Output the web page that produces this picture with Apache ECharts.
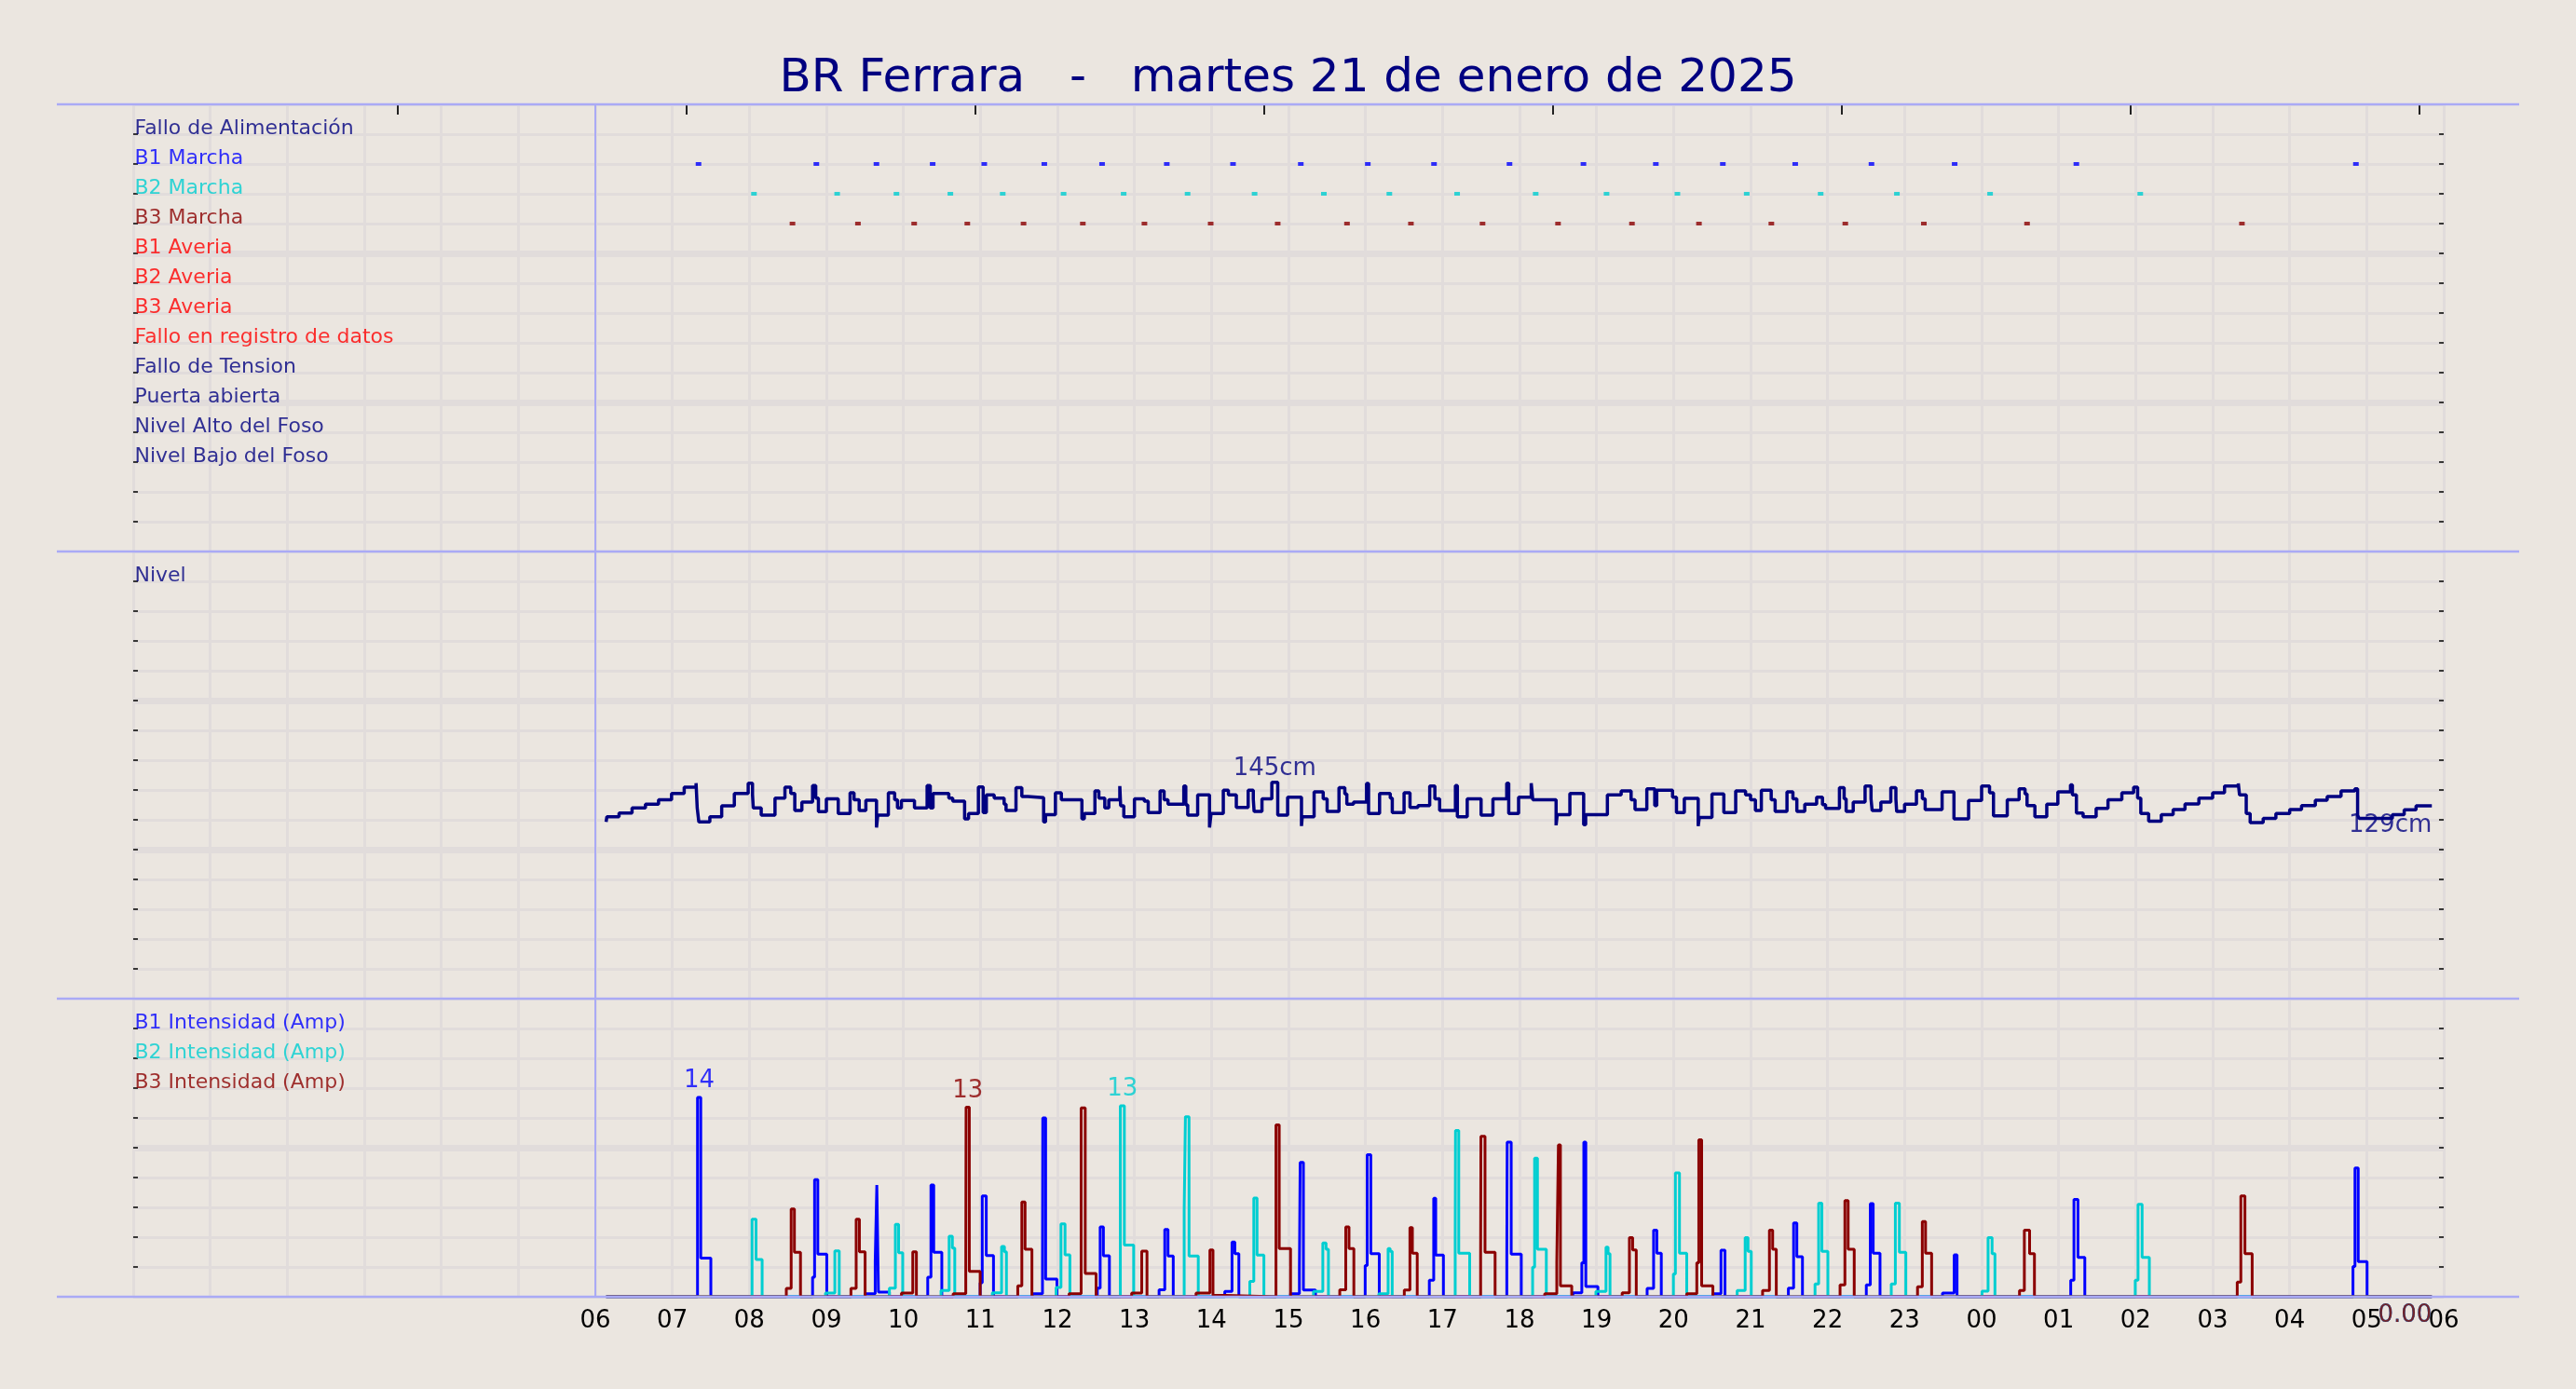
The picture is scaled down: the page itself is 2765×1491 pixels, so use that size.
<!DOCTYPE html>
<html>
<head>
<meta charset="utf-8">
<script src="https://cdn.jsdelivr.net/npm/echarts@6/dist/echarts.min.js"></script>
<style>
html,body{margin:0;padding:0;background:#ebe6e0;}
#chart{width:2765px;height:1491px;}
</style>
</head>
<body>
<div id="chart"></div>
<script>
// ---------------- DATA ----------------
const TITLE = 'BR Ferrara   -   martes 21 de enero de 2025';

const X_TICK_LABELS = ['06','07','08','09','10','11','12','13','14','15','16','17','18','19','20','21','22','23','00','01','02','03','04','05','06'];
const TOP_TICKS = [3.43, 7.18, 10.93, 14.68, 18.43, 22.18, 25.93, 29.68];

const STATUS_LABELS = ['Fallo de Alimentación','B1 Marcha','B2 Marcha','B3 Marcha','B1 Averia','B2 Averia','B3 Averia','Fallo en registro de datos','Fallo de Tension','Puerta abierta','Nivel Alto del Foso','Nivel Bajo del Foso'];
const LEVEL_LABELS = ['Nivel'];
const CURRENT_LABELS = ['B1 Intensidad (Amp)','B2 Intensidad (Amp)','B3 Intensidad (Amp)'];

// pump running marks (hours since 00:00 of the day)
const B1_MARCHA = [7.34, 8.87, 9.65, 10.38, 11.05, 11.83, 12.58, 13.42, 14.28, 15.16, 16.03, 16.89, 17.87, 18.83, 19.77, 20.64, 21.58, 22.57, 23.65, 25.23, 28.86];
const B2_MARCHA = [8.06, 9.14, 9.91, 10.61, 11.29, 12.08, 12.86, 13.69, 14.56, 15.46, 16.31, 17.19, 18.21, 19.13, 20.05, 20.95, 21.91, 22.90, 24.11, 26.06];
const B3_MARCHA = [8.56, 9.41, 10.14, 10.83, 11.56, 12.33, 13.13, 13.99, 14.86, 15.76, 16.59, 17.52, 18.50, 19.46, 20.33, 21.27, 22.23, 23.25, 24.59, 27.38];

// pit level (cm)
const LEVEL_CM = [
[6.14,118.6],[6.15,122.1],[6.308,124.5],[6.477,127.9],[6.651,130.4],[6.821,133.5],[6.990,137.7],[7.154,141.9],[7.308,144.6],[7.323,127.9],[7.344,118.6],[7.487,122.1],[7.641,129.4],[7.805,137.7],[7.985,144.6],[8.041,137],[8.051,127.9],[8.154,123.1],[8.333,134.6],[8.462,141.9],[8.538,137.7],[8.590,126.2],[8.682,131.9],[8.821,143],[8.862,134.6],[8.897,125.4],[9.000,134],[9.154,124.2],[9.308,138.1],[9.359,133.5],[9.426,126.2],[9.513,133.1],[9.651,114.8],[9.667,123.1],[9.805,138.1],[9.887,133.5],[9.923,127.9],[9.974,132.9],[10.144,127.9],[10.308,143],[10.349,127.9],[10.385,137.7],[10.590,134.6],[10.641,132.5],[10.795,120.6],[10.846,124.2],[10.974,142],[11.036,124.9],[11.077,136.7],[11.179,134.6],[11.308,130.4],[11.333,126.2],[11.462,141.5],[11.538,135.6],[11.615,134.8],[11.821,118.6],[11.846,123.5],[11.974,138.1],[12.051,133.5],[12.318,120.6],[12.349,124.2],[12.487,139.4],[12.538,134.6],[12.615,127.9],[12.667,133.5],[12.810,142.6],[12.821,129.4],[12.862,122.1],[13.000,134],[13.128,132.5],[13.179,124.9],[13.333,139.4],[13.385,133.5],[13.436,130.4],[13.641,142.6],[13.667,130],[13.692,123.1],[13.821,136.7],[13.975,114.8],[13.995,124.2],
[14.154,139.8],[14.220,136.7],[14.323,128.3],[14.477,139.8],[14.543,134],[14.554,125.6],[14.656,134],[14.784,145.2],[14.861,123.1],[14.989,135.2],[15.169,115.8],[15.179,122.1],[15.333,138.8],[15.451,134],[15.502,125.6],[15.656,141.5],[15.732,137.3],[15.758,130.4],[15.845,131.9],[16.014,144.4],[16.040,124.2],[16.183,137.7],[16.322,134.6],[16.348,124.9],[16.501,138.1],[16.578,128.3],[16.681,129.6],[16.834,142.6],[16.901,134],[16.963,126.2],[17.168,143],[17.193,122.1],[17.321,134],[17.501,123.1],[17.655,134],[17.834,144.6],[17.860,124.2],[17.988,135.2],[18.152,144.6],[18.172,133.5],[18.475,116.3],[18.49,123.5],[18.654,137.7],[18.833,116.7],[18.859,123.5],[19.141,136.7],[19.320,139.4],[19.449,133.5],[19.500,126.9],[19.653,140.8],[19.756,129.6],[19.782,139.8],[19.987,135.2],[20.038,124.9],[20.140,134.4],[20.320,115.8],[20.335,121.5],[20.499,137.3],[20.653,124.9],[20.807,139.4],[20.935,136.7],[21.000,133.5],[21.063,126.2],[21.140,139.8],[21.268,133.5],[21.319,125.6],[21.473,138.8],[21.550,134],[21.601,125.6],[21.704,130.4],[21.858,135.2],[21.934,130.1],[21.974,127.7],
[22.154,141.5],[22.215,134],[22.241,125.6],[22.333,131.9],[22.487,142.6],[22.564,134],[22.579,126.2],[22.692,131.9],[22.821,141.5],[22.887,134],[22.897,125.6],[23.000,130.4],[23.154,139.4],[23.231,134],[23.267,126.9],[23.487,138.8],[23.641,120.6],[23.831,132.9],[24.000,142.6],[24.103,138.1],[24.154,122.7],[24.333,133.5],[24.487,140.8],[24.564,137.3],[24.590,129.6],[24.692,122.1],[24.846,130.4],[24.990,138.8],[25.154,143.5],[25.179,136.7],[25.231,124.6],[25.318,122.1],[25.487,127.7],[25.641,133.5],[25.821,138.1],[25.974,141.9],[26.026,134.6],[26.067,124.2],[26.169,119],[26.333,123.5],[26.487,126.9],[26.641,130.6],[26.821,134.6],[27.000,138.1],[27.154,142.6],[27.333,144.4],[27.349,136.7],[27.436,124.2],[27.487,118.1],[27.656,121],[27.821,124.2],[28.000,126.9],[28.154,129.6],[28.333,133.1],[28.487,135.6],[28.667,139.4],[28.846,140.8],[28.882,123.1],[28.90,121],[29.333,123.5],[29.487,126.7],[29.641,129.4],[29.846,129.4]
];

// pump currents (A)
const B1_AMPS = [
[6.14,0],
[7.327,14.04],[7.369,2.73],[7.500,0],
[8.821,1.38],[8.847,8.25],[8.889,3.0],[9.005,0],
[9.503,0.22],[9.634,2.5],[9.655,7.87],[9.676,0.33],[9.818,0],
[10.316,1.38],[10.358,7.87],[10.394,3.13],[10.499,0],
[10.997,0.99],[11.024,7.11],[11.076,2.91],[11.170,0],
[11.679,0.22],[11.806,1.79],[11.810,12.6],[11.847,1.25],[11.994,0],
[12.518,0.6],[12.555,4.92],[12.597,2.89],[12.675,0],
[13.320,0.5],[13.394,4.74],[13.436,2.87],[13.504,0],
[14.173,0.37],[14.267,3.86],[14.304,3.04],[14.356,0],
[15.027,0.22],[15.142,2.0],[15.152,9.47],[15.194,0.48],[15.351,0],
[15.996,2.2],[16.022,10.0],[16.069,3.04],[16.179,0],
[16.829,1.16],[16.886,6.94],[16.912,2.93],[17.012,0],
[17.835,2.7],[17.840,10.9],[17.892,3.0],[18.023,0],
[18.694,0.28],[18.809,2.4],[18.835,10.9],[18.861,0.72],[19.018,0],
[19.657,0.59],[19.741,4.7],[19.783,3.06],[19.841,0],
[20.511,0.22],[20.616,3.28],[20.668,0],
[21.491,0.6],[21.559,5.2],[21.601,2.82],[21.674,0],
[22.503,0.84],[22.555,6.56],[22.592,3.06],[22.681,0],
[23.492,0.26],[23.644,2.95],[23.681,0],
[25.157,1.16],[25.199,6.85],[25.251,2.78],[25.340,0],
[28.822,2.14],[28.848,9.08],[28.890,2.47],[29.005,0],
[29.846,0]
];
const B2_AMPS = [
[6.14,0],
[8.035,5.47],[8.087,2.62],[8.166,0],
[8.989,0.26],[9.110,3.24],[9.167,0],
[9.818,0.6],[9.896,5.1],[9.938,3.1],[9.991,0],
[10.489,0.44],[10.594,4.27],[10.636,3.43],[10.667,0],
[11.155,0.28],[11.275,3.54],[11.312,3.17],[11.338,0],
[11.983,0.66],[12.046,5.14],[12.099,2.95],[12.162,0],
[12.817,13.45],[12.869,3.65],[12.990,0],
[13.646,6.12],[13.662,12.69],[13.709,2.87],[13.829,0],
[14.498,1.09],[14.550,6.96],[14.592,2.93],[14.681,0],
[15.325,0.37],[15.446,3.79],[15.488,3.35],[15.519,0],
[16.174,0.22],[16.294,3.39],[16.320,3.2],[16.347,0],
[17.165,4.2],[17.169,11.71],[17.211,3.06],[17.353,0],
[18.170,2.08],[18.196,9.76],[18.233,3.35],[18.348,0],
[18.992,0.37],[19.123,3.5],[19.150,3.04],[19.175,0],
[19.998,1.6],[20.024,8.72],[20.077,3.06],[20.171,0],
[20.826,0.44],[20.930,4.16],[20.967,3.2],[21.009,0],
[21.837,0.9],[21.884,6.6],[21.926,3.2],[22.004,0],
[22.827,0.9],[22.880,6.6],[22.932,3.13],[23.016,0],
[24.005,0.39],[24.084,4.16],[24.136,3.04],[24.173,0],
[25.995,1.16],[26.031,6.52],[26.084,2.78],[26.178,0],
[29.846,0]
];
const B3_AMPS = [
[6.14,0],
[8.480,0.59],[8.543,6.19],[8.585,3.13],[8.664,0],
[9.319,0.59],[9.387,5.47],[9.429,3.17],[9.503,0],
[9.975,0.26],[10.122,3.17],[10.169,0],
[10.646,0.22],[10.810,1.5],[10.814,13.35],[10.856,1.79],[10.997,0],
[11.485,0.77],[11.538,6.67],[11.580,3.35],[11.669,0],
[12.151,0.22],[12.308,13.3],[12.361,1.64],[12.502,0],
[12.964,0.26],[13.095,3.21],[13.163,0],
[13.80,0.26],[13.98,3.3],[14.02,0.1],[14.19,0],
[14.838,12.1],[14.880,3.39],[15.027,0],
[15.666,0.5],[15.744,4.92],[15.786,3.39],[15.849,0],
[16.504,0.48],[16.577,4.88],[16.609,3.06],[16.672,0],
[17.495,2.7],[17.499,11.3],[17.552,3.13],[17.683,0],
[18.327,0.22],[18.484,2.4],[18.505,10.7],[18.531,0.77],[18.678,0],
[19.333,0.28],[19.427,4.16],[19.469,3.3],[19.516,0],
[20.171,0.22],[20.302,2.4],[20.328,11.05],[20.365,0.77],[20.511,0],
[21.156,0.44],[21.245,4.7],[21.287,3.35],[21.334,0],
[22.162,0.84],[22.225,6.78],[22.267,3.35],[22.346,0],
[23.168,0.7],[23.230,5.3],[23.272,3.06],[23.351,0],
[24.492,0.44],[24.555,4.7],[24.623,3.04],[24.686,0],
[27.319,1.03],[27.366,7.11],[27.419,3.04],[27.513,0],
[29.846,0]
];

// ---------------- STYLE ----------------
const BG = '#ebe6e0';
const GRID_C = '#e1dcdb';
const LAV = '#aaaaf5';
const NAVY = '#000080';
const C_B1 = '#0000ff', C_B2 = '#00ced1', C_B3 = '#8b0000', C_RED = '#ff0000';
const FONT = 'DejaVu Sans';
const STATUS_COLORS = [NAVY, C_B1, C_B2, C_B3, C_RED, C_RED, C_RED, C_RED, NAVY, NAVY, NAVY, NAVY];
const CURRENT_COLORS = [C_B1, C_B2, C_B3];

const PLOT_L = 143, PLOT_R = 142;
const PANELS = [
  {top: 112, height: 480, rows: 15},
  {top: 592, height: 480, rows: 15},
  {top: 1072, height: 320, rows: 10}
];
const DATA_RANGE = [[0, 15], [0, 300], [0, 21]];

// ---------------- OPTION ----------------
const grid = PANELS.map(p => ({left: PLOT_L, right: PLOT_R, top: p.top, height: p.height}));

const xAxis = PANELS.map((p, i) => ({
  gridIndex: i, type: 'value', min: 0, max: 30, interval: 1,
  axisLine: {show: false}, axisTick: {show: false},
  axisLabel: {
    show: i === 2, margin: 13, fontSize: 26, fontFamily: FONT, color: '#000',
    showMinLabel: true, showMaxLabel: true,
    formatter: v => (v >= 6 ? (X_TICK_LABELS[Math.round(v) - 6] || '') : '')
  },
  splitLine: {show: true, lineStyle: {color: GRID_C, width: 3}}
}));
xAxis.push({
  gridIndex: 0, type: 'value', min: 0, max: 30, position: 'top',
  axisLine: {show: false}, axisLabel: {show: false}, splitLine: {show: false},
  axisTick: {show: true, inside: true, length: 11, customValues: TOP_TICKS, lineStyle: {color: '#222', width: 2}}
});

const yAxis = [];
PANELS.forEach((p, i) => {
  yAxis.push({ // minor row grid (index 4i)
    gridIndex: i, type: 'value', min: 0, max: p.rows, interval: 1, inverse: true,
    axisLine: {show: false}, axisLabel: {show: false},
    axisTick: {show: true, inside: true, length: 5, lineStyle: {color: '#000', width: 1.5}},
    splitLine: {show: true, lineStyle: {color: GRID_C, width: 3}}
  });
  yAxis.push({ // major row grid (4i+1)
    gridIndex: i, type: 'value', min: 0, max: p.rows, interval: 5, inverse: true,
    axisLine: {show: false}, axisLabel: {show: false}, axisTick: {show: false},
    splitLine: {show: true, showMinLine: false, showMaxLine: false, lineStyle: {color: GRID_C, width: 7}}
  });
  yAxis.push({ // right ticks (4i+2)
    gridIndex: i, type: 'value', min: 0, max: p.rows, interval: 1, inverse: true, position: 'right',
    axisLine: {show: false}, axisLabel: {show: false}, splitLine: {show: false},
    axisTick: {show: true, inside: true, length: 5, lineStyle: {color: '#000', width: 1.5}}
  });
  yAxis.push({ // data axis (4i+3)
    gridIndex: i, type: 'value', min: DATA_RANGE[i][0], max: DATA_RANGE[i][1], inverse: i === 0, show: false
  });
});

function rowLabels(names, colors, gi) {
  return {
    type: 'scatter', xAxisIndex: gi, yAxisIndex: gi * 4, silent: true, z: 5,
    symbolSize: 1, itemStyle: {color: 'rgba(0,0,0,0)'},
    data: names.map((n, k) => ({name: n, value: [0, k + 1], label: {color: colors[k]}})),
    label: {show: true, position: 'right', distance: 1, offset: [0, -6], formatter: '{b}', fontSize: 22, fontFamily: FONT, align: 'left', verticalAlign: 'middle'}
  };
}

const vLine = {
  silent: true, symbol: ['none', 'none'], label: {show: false},
  lineStyle: {color: LAV, width: 2, type: 'solid'}, data: [{xAxis: 6}]
};

const series = [];
// panel 1
series.push(rowLabels(STATUS_LABELS, STATUS_COLORS, 0));
[[B1_MARCHA, 'B1 Marcha', C_B1], [B2_MARCHA, 'B2 Marcha', C_B2], [B3_MARCHA, 'B3 Marcha', C_B3]].forEach((m, k) => {
  const row = STATUS_LABELS.indexOf(m[1]) + 1;
  series.push({
    type: 'scatter', name: m[1], xAxisIndex: 0, yAxisIndex: 0, silent: true,
    symbol: 'rect', symbolSize: [6, 4], itemStyle: {color: m[2]},
    data: m[0].map(t => [t, row]),
    markLine: k === 0 ? vLine : undefined
  });
});
// panel 2
series.push(rowLabels(LEVEL_LABELS, [NAVY], 1));
series.push({
  type: 'line', name: 'Nivel', xAxisIndex: 1, yAxisIndex: 7, step: 'end', silent: true,
  showSymbol: false, symbol: 'none', lineStyle: {color: NAVY, width: 3.5}, data: LEVEL_CM,
  markLine: vLine, z: 3
});
(function () {
  let mi = 0;
  LEVEL_CM.forEach((p, k) => { if (p[1] > LEVEL_CM[mi][1]) mi = k; });
  const nx = LEVEL_CM[Math.min(mi + 1, LEVEL_CM.length - 1)][0];
  const maxPt = [(LEVEL_CM[mi][0] + nx) / 2, LEVEL_CM[mi][1]];
  const last = LEVEL_CM[LEVEL_CM.length - 1];
  series.push({
    type: 'scatter', xAxisIndex: 1, yAxisIndex: 7, silent: true, symbolSize: 1, itemStyle: {color: 'rgba(0,0,0,0)'}, z: 6,
    data: [
      {value: maxPt, label: {position: 'top', distance: 1, align: 'center'}},
      {value: last, label: {position: 'bottom', distance: 8, align: 'right'}}
    ],
    label: {show: true, color: NAVY, fontSize: 26, fontFamily: FONT, formatter: p => Math.round(p.value[1]) + 'cm'}
  });
})();
// panel 3
series.push(rowLabels(CURRENT_LABELS, CURRENT_COLORS, 2));
[B1_AMPS, B2_AMPS, B3_AMPS].forEach((d, k) => {
  series.push({
    type: 'line', name: CURRENT_LABELS[k], xAxisIndex: 2, yAxisIndex: 11, step: 'end', silent: true,
    showSymbol: false, symbol: 'none', lineStyle: {color: CURRENT_COLORS[k], width: 3}, data: d,
    markLine: k === 0 ? vLine : undefined, z: 3
  });
});
[B1_AMPS, B2_AMPS, B3_AMPS].forEach((d, k) => {
  let mi = 0;
  d.forEach((p, j) => { if (p[1] > d[mi][1]) mi = j; });
  const maxPt = [(d[mi][0] + d[mi + 1][0]) / 2, d[mi][1]];
  const last = d[d.length - 1];
  series.push({
    type: 'scatter', xAxisIndex: 2, yAxisIndex: 11, silent: true, symbolSize: 1, itemStyle: {color: 'rgba(0,0,0,0)'}, z: 6,
    data: [
      {value: maxPt, label: {position: 'top', distance: 4, align: 'center', formatter: p => String(Math.round(p.value[1]))}},
      {value: last, label: {position: 'bottom', distance: 7, align: 'right', formatter: p => p.value[1].toFixed(2)}}
    ],
    label: {show: true, color: CURRENT_COLORS[k], fontSize: 26, fontFamily: FONT}
  });
});

// panel separators
const SEP_Y = [112, 592, 1072, 1392];
const graphic = SEP_Y.map(y => ({
  type: 'line', z: 100, silent: true,
  shape: {x1: 61, y1: y, x2: 2704, y2: y},
  style: {stroke: LAV, lineWidth: 2.5}
}));

const option = {
  animation: false,
  backgroundColor: BG,
  title: {
    text: TITLE, left: 'center', top: 55,
    textStyle: {fontFamily: FONT, fontSize: 50, fontWeight: 'normal', color: NAVY}
  },
  grid, xAxis, yAxis, series, graphic
};

const chart = echarts.init(document.getElementById('chart'), null, {renderer: 'canvas'});
chart.setOption(option);
</script>
</body>
</html>
